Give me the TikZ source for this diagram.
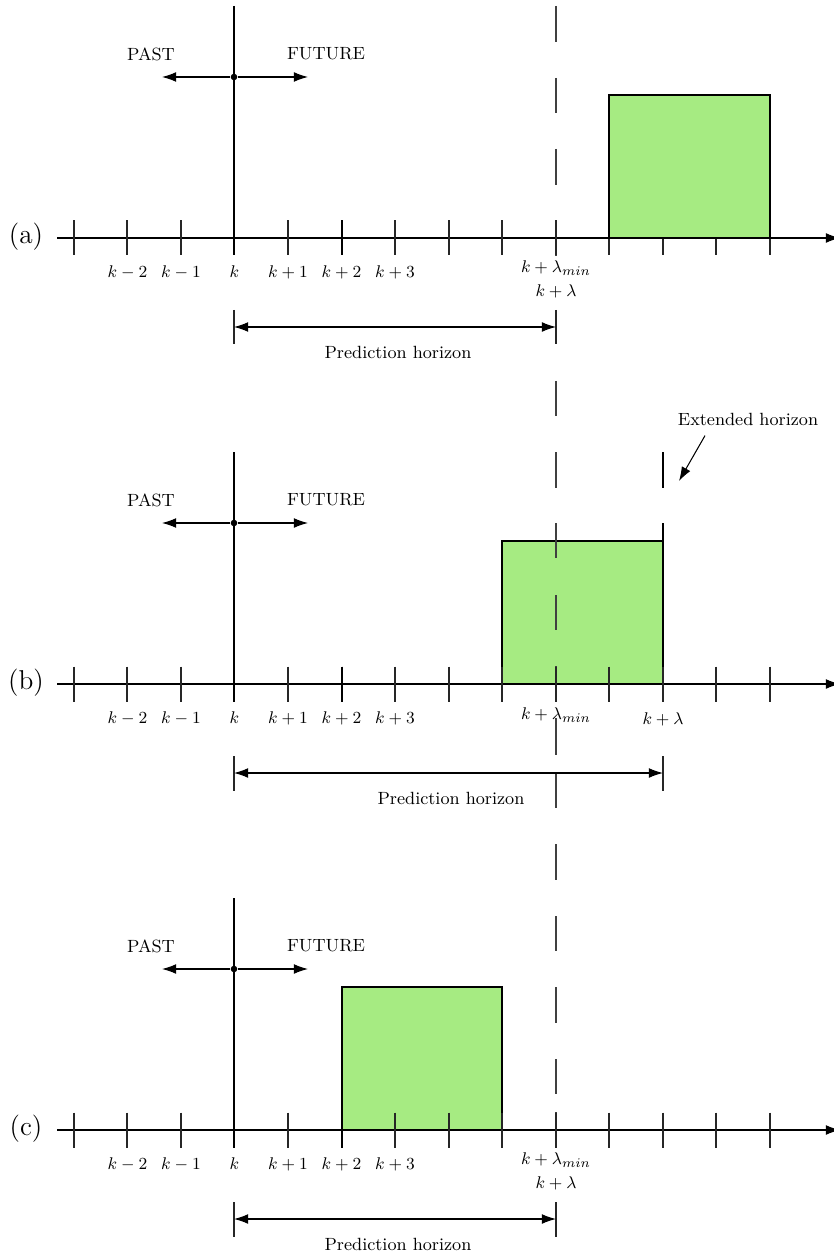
\documentclass[tikz,border=0pt]{standalone}
\usetikzlibrary{arrows.meta}
\definecolor{boxgreen}{RGB}{166,235,130}
\begin{document}
\begin{tikzpicture}[x=0.5315pt,y=-0.5315pt,
  ln/.style={line width=0.55pt,black},
  tk/.style={line width=0.55pt,black!85},
  dsh/.style={line width=0.55pt,black!75},
  thk/.style={line width=0.9pt,black},
  arr/.style={line width=0.55pt,-{Latex[length=7.5pt,width=5.2pt]}},
  darr/.style={line width=0.55pt,{Latex[length=7.5pt,width=5.2pt]}-{Latex[length=7.5pt,width=5.2pt]}},
  lbl/.style={font=\fontsize{9.4}{11}\selectfont,inner sep=0pt},
  plbl/.style={font=\fontsize{14.5}{17}\selectfont,inner sep=0pt},
  gbox/.style={draw=black,line width=0.6pt,fill=boxgreen}]
\useasboundingbox (0,0) rectangle (833,1254);
% boxes of (b) and (c), under the ticks
\draw[gbox] (502,541) rectangle (663,684);
\draw[gbox] (342,987) rectangle (502,1130);
% dashed line at k+lambda_min
\foreach \s/\e in {6/42,78/113,149/185,221/256,381/416,452/488,523/558,595/630,666/702,718/755,773/808,844/880,916/951,987/1023,1059/1094,1112/1148}
  \draw[dsh] (556,\s) -- (556,\e);
% extended horizon (b)
\foreach \s/\e in {452/488,523/558,595/630,666/702}
  \draw[thk] (663,\s) -- (663,\e);
\foreach \p/\o in {a/0,b/446,c/892}{
  \begin{scope}[shift={(0,\o)}]
    \coordinate (\p-as) at (57,238);
    \coordinate (\p-ae) at (840,238);
    \draw[arr] (\p-as) -- (\p-ae);
    \foreach \x in {74,127,181,234,288,342,395,449,502,556,609,663,716,770}
      \draw[tk] (\x,220.5) -- (\x,255.5);
    \draw[line width=0.8pt] (342,220.5) -- (342,255.5);
    \coordinate (\p-kt) at (234,6);
    \coordinate (\p-kb) at (234,255.5);
    \draw[ln] (\p-kt) -- (\p-kb);
    \node[circle,fill=black,inner sep=0pt,minimum size=3.5pt] (\p-dot) at (234,77) {};
    \coordinate (\p-past) at (162,77);
    \coordinate (\p-fut) at (308,77);
    \draw[arr] (\p-dot) -- (\p-past);
    \draw[arr] (\p-dot) -- (\p-fut);
    \node[lbl] (\p-pastl) at (151,54) {PAST};
    \node[lbl] (\p-futl) at (326,54) {FUTURE};
    \node[plbl] (\p-name) at (26,237) {(\p)};
    \node[lbl] (\p-km2) at (127.5,272) {$k-2$};
    \node[lbl] (\p-km1) at (181,272) {$k-1$};
    \node[lbl] (\p-k) at (234.5,272) {$k$};
    \node[lbl] (\p-kp1) at (288,272) {$k+1$};
    \node[lbl] (\p-kp2) at (341.5,272) {$k+2$};
    \node[lbl] (\p-kp3) at (395,272) {$k+3$};
    \draw[tk] (234,310) -- (234,344.5);
  \end{scope}
}
% box of (a), over the ticks
\draw[gbox] (609,95) rectangle (770,238);
% horizon (a)
\draw[tk] (556,310) -- (556,344.5);
\coordinate (a-hs) at (234,327);
\coordinate (a-he) at (556,327);
\draw[darr] (a-hs) -- (a-he);
\node[lbl] (a-ph) at (398,352) {Prediction horizon};
\node[lbl] (a-lmin) at (556,268) {$k+\lambda_{min}$};
\node[lbl] (a-l) at (556,291) {$k+\lambda$};
% horizon (b)
\draw[tk] (663,756) -- (663,791);
\coordinate (b-hs) at (234,773);
\coordinate (b-he) at (663,773);
\draw[darr] (b-hs) -- (b-he);
\node[lbl] (b-ph) at (451,798) {Prediction horizon};
\node[lbl] (b-lmin) at (556,715) {$k+\lambda_{min}$};
\node[lbl] (b-l) at (663,719) {$k+\lambda$};
\node[lbl] (ext) at (748,419) {Extended horizon};
\coordinate (ext-tip) at (679,481);
\draw[arr] (ext.south) ++(-43,10) coordinate (ext-from) (ext-from) -- (ext-tip);
% horizon (c)
\draw[tk] (556,1202) -- (556,1237);
\coordinate (c-hs) at (234,1219);
\coordinate (c-he) at (556,1219);
\draw[darr] (c-hs) -- (c-he);
\node[lbl] (c-ph) at (398,1244) {Prediction horizon};
\node[lbl] (c-lmin) at (556,1160) {$k+\lambda_{min}$};
\node[lbl] (c-l) at (556,1183) {$k+\lambda$};
\end{tikzpicture}
\end{document}
